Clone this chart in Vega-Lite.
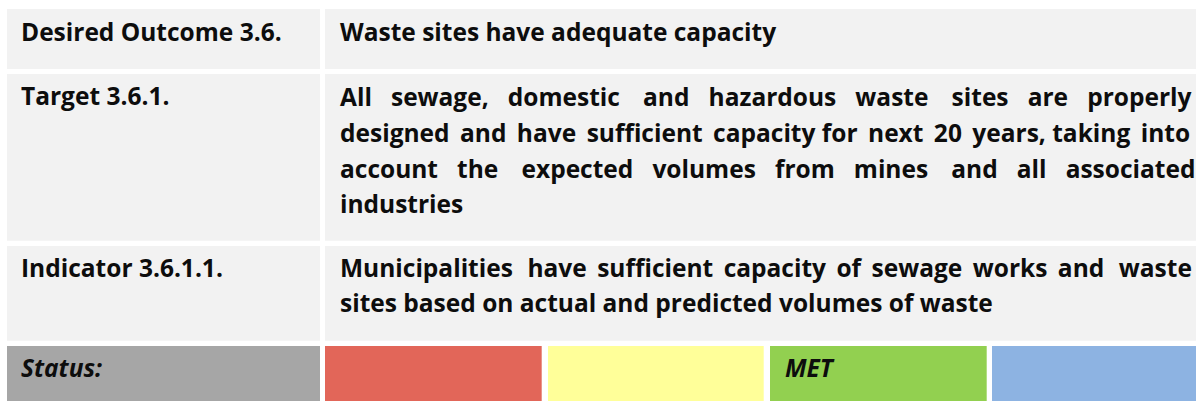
{
  "$schema": "https://vega.github.io/schema/vega-lite/v6.json",
  "width": 1196,
  "height": 401,
  "padding": 0,
  "autosize": {"type": "none"},
  "background": "white",
  "view": {"stroke": null},
  "datasets": {
    "cells": [
      {"kind": "label", "x0": 7, "x1": 320, "y0": 9, "y1": 69},
      {"kind": "label", "x0": 325, "x1": 1196, "y0": 9, "y1": 69},
      {"kind": "label", "x0": 7, "x1": 320, "y0": 74, "y1": 240.7},
      {"kind": "label", "x0": 325, "x1": 1196, "y0": 74, "y1": 240.7},
      {"kind": "label", "x0": 7, "x1": 320, "y0": 246, "y1": 340.7},
      {"kind": "label", "x0": 325, "x1": 1196, "y0": 246, "y1": 340.7},
      {"kind": "status", "x0": 7, "x1": 320, "y0": 346, "y1": 401},
      {"kind": "red", "x0": 325, "x1": 541.7, "y0": 346, "y1": 401},
      {"kind": "yellow", "x0": 548, "x1": 763.7, "y0": 346, "y1": 401},
      {"kind": "green", "x0": 770, "x1": 986.7, "y0": 346, "y1": 401},
      {"kind": "blue", "x0": 992, "x1": 1196, "y0": 346, "y1": 401}
    ],
    "texts": [
      {"kind": "label", "x": 21, "y": 40.7, "text": "Desired Outcome 3.6."},
      {"kind": "label", "x": 21, "y": 105, "text": "Target 3.6.1."},
      {"kind": "label", "x": 21, "y": 276.7, "text": "Indicator 3.6.1.1."},
      {"kind": "status", "x": 21, "y": 377.3, "text": "Status:"},
      {"kind": "label", "x": 340, "y": 40.7, "text": "Waste sites have adequate capacity"},
      {"kind": "label", "x": 340, "y": 105.7, "text": "All\u00a0\u00a0\u00a0sewage,\u00a0\u00a0\u00a0domestic\u00a0\u00a0\u00a0\u2006and\u00a0\u00a0\u00a0hazardous\u00a0\u00a0\u00a0waste\u00a0\u00a0\u00a0\u2006sites\u00a0\u00a0\u00a0are\u00a0\u00a0\u00a0properly"},
      {"kind": "label", "x": 340, "y": 141.7, "text": "designed\u00a0\u2006and\u00a0\u2006have\u00a0\u2006sufficient\u00a0\u2006capacity\u00a0for\u00a0\u2006next\u00a0\u200620\u00a0\u2006years,\u00a0taking\u00a0\u2006into"},
      {"kind": "label", "x": 340, "y": 178.3, "text": "account\u00a0\u00a0\u00a0the\u00a0\u00a0\u00a0\u2006expected\u00a0\u00a0\u00a0volumes\u00a0\u00a0\u00a0from\u00a0\u00a0\u00a0mines\u00a0\u00a0\u00a0\u2006and\u00a0\u00a0\u00a0all\u00a0\u00a0\u00a0associated"},
      {"kind": "label", "x": 340, "y": 213.3, "text": "industries"},
      {"kind": "label", "x": 340, "y": 276.7, "text": "Municipalities\u00a0\u2006\u2006have\u00a0\u2006sufficient\u00a0\u2006capacity\u00a0\u2006of\u00a0\u2006sewage\u00a0\u2006works\u00a0\u2006and\u00a0\u2006\u2006waste"},
      {"kind": "label", "x": 340, "y": 311.7, "text": "sites based on actual and predicted volumes of waste"},
      {"kind": "status", "x": 785, "y": 377.3, "text": "MET"}
    ]
  },
  "layer": [
    {
      "data": {"name": "cells"},
      "mark": {"type": "rect", "strokeWidth": 0},
      "encoding": {
        "x": {"field": "x0", "type": "quantitative", "scale": {"domain": [0, 1196], "nice": false, "zero": false}, "axis": null},
        "x2": {"field": "x1"},
        "y": {"field": "y0", "type": "quantitative", "scale": {"domain": [0, 401], "nice": false, "zero": false, "reverse": true}, "axis": null},
        "y2": {"field": "y1"},
        "color": {
          "field": "kind",
          "type": "nominal",
          "legend": null,
          "scale": {
            "domain": ["label", "status", "red", "yellow", "green", "blue"],
            "range": ["#F2F2F2", "#A6A6A6", "#E26659", "#FFFF99", "#92D050", "#8DB3E2"]
          }
        }
      }
    },
    {
      "data": {"name": "texts"},
      "transform": [{"filter": "datum.kind === 'label'"}],
      "mark": {"type": "text", "align": "left", "baseline": "alphabetic", "font": "Open Sans", "fontWeight": "bold", "fontSize": 24.5, "color": "#0d0d0d"},
      "encoding": {
        "x": {"field": "x", "type": "quantitative", "scale": {"domain": [0, 1196], "nice": false, "zero": false}, "axis": null},
        "y": {"field": "y", "type": "quantitative", "scale": {"domain": [0, 401], "nice": false, "zero": false, "reverse": true}, "axis": null},
        "text": {"field": "text"}
      }
    },
    {
      "data": {"name": "texts"},
      "transform": [{"filter": "datum.kind === 'status'"}],
      "mark": {"type": "text", "align": "left", "baseline": "alphabetic", "font": "Open Sans", "fontWeight": "bold", "fontStyle": "italic", "fontSize": 24.5, "color": "#0d0d0d"},
      "encoding": {
        "x": {"field": "x", "type": "quantitative", "scale": {"domain": [0, 1196], "nice": false, "zero": false}, "axis": null},
        "y": {"field": "y", "type": "quantitative", "scale": {"domain": [0, 401], "nice": false, "zero": false, "reverse": true}, "axis": null},
        "text": {"field": "text"}
      }
    }
  ]
}
